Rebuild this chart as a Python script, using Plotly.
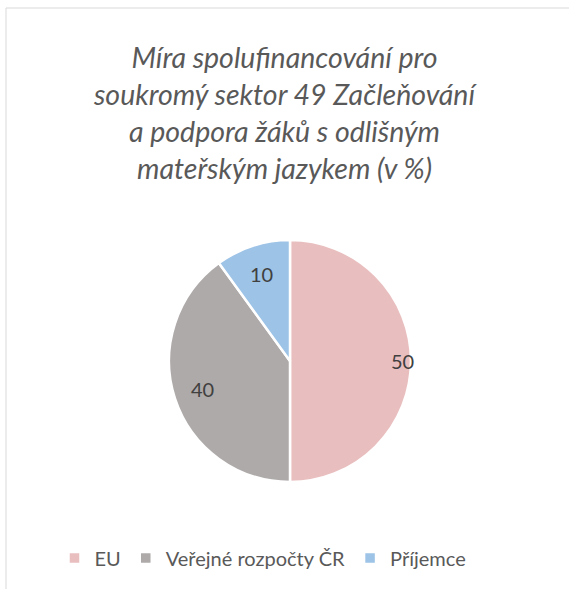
import math
import plotly.graph_objects as go

labels = ["EU", "Veřejné rozpočty ČR", "Příjemce"]
values = [50, 40, 10]
colors = ["#E9BEBF", "#AEAAA9", "#9DC3E6"]
title_text = ("Míra spolufinancování pro<br>soukromý sektor 49 Začleňování<br>"
              "a podpora žáků s odlišným<br>mateřským jazykem (v %)")

W, H = 569, 589
# pie placement (pixels)
CX, CY, R = 290, 361, 121
# radial position of each data label as fraction of radius (Excel best fit look)
label_radius = [0.93, 0.76, 0.76]

fig = go.Figure(go.Pie(
    labels=labels,
    values=values,
    sort=False,
    direction="clockwise",
    rotation=0,
    marker=dict(colors=colors, line=dict(color="white", width=2.5)),
    textinfo="none",
    domain=dict(x=[(CX - R) / W, (CX + R) / W], y=[1 - (CY + R) / H, 1 - (CY - R) / H]),
    hoverinfo="label+value",
))

# data labels placed at slice mid-angles computed from the values
total = sum(values)
cum = 0
annotations = []
for v, f in zip(values, label_radius):
    mid = (cum + v / 2) / total * 2 * math.pi
    cum += v
    px = CX + R * f * math.sin(mid)
    py = CY - R * f * math.cos(mid)
    annotations.append(dict(
        x=px / W, y=1 - py / H, xref="paper", yref="paper",
        text=str(v), showarrow=False,
        font=dict(family="Lato", size=20, color="#404040"),
        xanchor="center", yanchor="middle",
    ))

fig.update_layout(
    width=W, height=H,
    margin=dict(l=0, r=0, t=0, b=0),
    paper_bgcolor="white",
    plot_bgcolor="white",
    title=dict(
        text=title_text,
        x=0.5, xanchor="center",
        y=1 - 68 / H, yanchor="middle",
        font=dict(family="Lato", size=28.5, color="#595959", style="italic"),
    ),
    annotations=annotations,
    showlegend=True,
    legend=dict(
        orientation="h",
        x=263 / W, xanchor="center",
        y=1 - 558 / H, yanchor="middle",
        font=dict(family="Lato", size=20, color="#595959"),
        itemwidth=30,
        traceorder="normal",
    ),
    shapes=[dict(
        type="rect", xref="paper", yref="paper",
        x0=6 / W, x1=1.05, y0=-0.05, y1=1 - 8 / H,
        line=dict(color="#D9D9D9", width=1),
        fillcolor="rgba(0,0,0,0)",
        layer="below",
    )],
)

fig.write_html("out.html", config={"displayModeBar": False},
               post_script="document.body.style.margin='0';")
